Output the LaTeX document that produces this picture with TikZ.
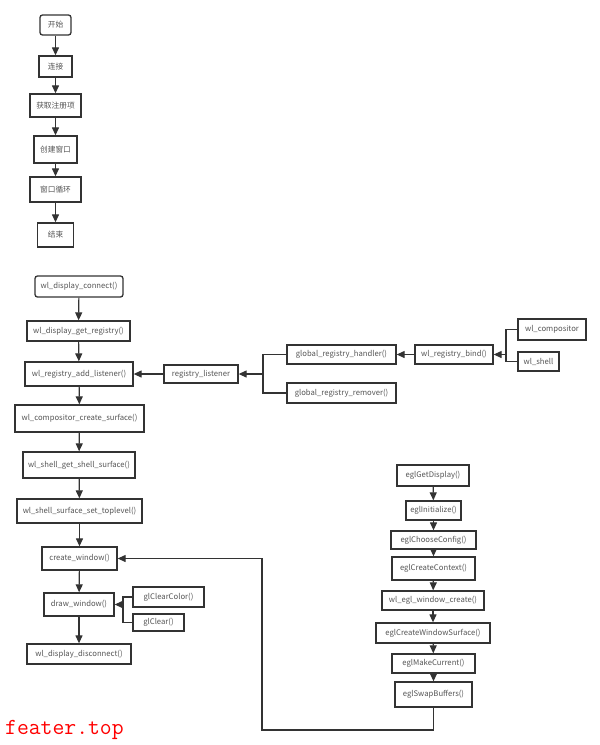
\documentclass[tikz,border=0pt]{standalone}
\usepackage{fontspec}
\setmainfont{Noto Sans CJK SC}
\usetikzlibrary{arrows.meta}
\definecolor{edgec}{HTML}{333333}
\definecolor{txtc}{HTML}{555555}
\tikzset{
  box/.style={draw=edgec, line width=1.3pt, fill=white, inner sep=0pt, text=txtc,
     font=\fontsize{7.7}{9}\selectfont},
  rbox/.style={box, rounded corners=2.5pt},
  conn/.style={draw=edgec, line width=1.2pt},
  arr/.style={conn, -{Triangle[length=8pt,width=7pt]}},
}
\begin{document}
\begin{tikzpicture}[x=1pt,y=-1pt]
\useasboundingbox (0,0) rectangle (600,745);
% top flow
\node[rbox, minimum width=31pt, minimum height=20pt] (a1) at (55.5,25) {开始};
\node[box, minimum width=33pt, minimum height=21pt] (a2) at (55.5,66.5) {连接};
\node[box, minimum width=51pt, minimum height=23pt] (a3) at (55.5,105.5) {获取注册项};
\node[box, minimum width=43pt, minimum height=27pt] (a4) at (55.5,149.5) {创建窗口};
\node[box, minimum width=51pt, minimum height=25pt] (a5) at (55.5,189.5) {窗口循环};
\node[box, minimum width=36pt, minimum height=24pt] (a6) at (55.5,235) {结束};
\foreach \p/\q in {a1/a2,a2/a3,a3/a4,a4/a5,a5/a6} \draw[arr] (\p) -- (\q);
% wayland flow
\node[rbox, minimum width=88pt, minimum height=21pt] (m1) at (79,286.5) {wl\_display\_connect()};
\node[box, minimum width=103pt, minimum height=20pt] (m2) at (78.5,331) {wl\_display\_get\_registry()};
\node[box, minimum width=108pt, minimum height=24pt] (m3) at (79,374) {wl\_registry\_add\_listener()};
\node[box, minimum width=129pt, minimum height=27pt] (m4) at (79.5,418.5) {wl\_compositor\_create\_surface()};
\node[box, minimum width=112pt, minimum height=26pt] (m5) at (79,465) {wl\_shell\_get\_shell\_surface()};
\node[box, minimum width=125pt, minimum height=24pt] (m6) at (79.5,511) {wl\_shell\_surface\_set\_toplevel()};
\node[box, minimum width=75pt, minimum height=23pt] (cw) at (79.5,558.5) {create\_window()};
\node[box, minimum width=70pt, minimum height=23pt] (dw) at (79,604.5) {draw\_window()};
\node[box, minimum width=104pt, minimum height=20pt] (dd) at (79,654) {wl\_display\_disconnect()};
\foreach \p/\q in {m1/m2,m2/m3,m3/m4,m4/m5,m5/m6,m6/cw,cw/dw,dw/dd} \draw[arr] (\p) -- (\q);
% registry
\node[box, minimum width=74pt, minimum height=18pt] (rl) at (201,374) {registry\_listener};
\node[box, minimum width=109pt, minimum height=19pt] (grh) at (341.5,354.5) {global\_registry\_handler()};
\node[box, minimum width=109pt, minimum height=20pt] (grr) at (341.5,393) {global\_registry\_remover()};
\node[box, minimum width=78pt, minimum height=19pt] (bind) at (454,354.5) {wl\_registry\_bind()};
\node[box, minimum width=68pt, minimum height=21pt] (wlc) at (552,329.5) {wl\_compositor};
\node[box, minimum width=41pt, minimum height=19pt] (wls) at (538.5,361.5) {wl\_shell};
\coordinate (f1) at (263,374);
\coordinate (f2) at (506,354.5);
\draw[conn] (grh.west) -| (f1);
\draw[conn] (grr.west) -| (f1);
\draw[arr] (f1) -- (rl.east);
\draw[arr] (rl.west) -- (m3.east);
\draw[conn] (wlc.west) -| (f2);
\draw[conn] (wls.west) -| (f2);
\draw[arr] (f2) -- (bind.east);
\draw[arr] (bind.west) -- (grh.east);
% gl
\node[box, minimum width=71pt, minimum height=20pt] (gcc) at (168.5,597) {glClearColor()};
\node[box, minimum width=51pt, minimum height=17pt] (gc) at (158.5,622.5) {glClear()};
\coordinate (f3) at (123,604.5);
\draw[conn] (gcc.west) -| (f3);
\draw[conn] (gc.west) -| (f3);
\draw[arr] (f3) -- (dw.east);
% egl
\node[box, minimum width=72pt, minimum height=21pt] (e1) at (433,475.5) {eglGetDisplay()};
\node[box, minimum width=55pt, minimum height=19pt] (e2) at (433.5,510.5) {eglInitialize()};
\node[box, minimum width=85pt, minimum height=18pt] (e3) at (433.5,540) {eglChooseConfig()};
\node[box, minimum width=83pt, minimum height=23pt] (e4) at (433.5,568.5) {eglCreateContext()};
\node[box, minimum width=102pt, minimum height=19pt] (e5) at (433,600.5) {wl\_egl\_window\_create()};
\node[box, minimum width=114pt, minimum height=20pt] (e6) at (433,633) {eglCreateWindowSurface()};
\node[box, minimum width=83pt, minimum height=19pt] (e7) at (433.5,663.5) {eglMakeCurrent()};
\node[box, minimum width=77pt, minimum height=25pt] (e8) at (433.5,694.5) {eglSwapBuffers()};
\foreach \p/\q in {e1/e2,e2/e3,e3/e4,e4/e5,e5/e6,e6/e7,e7/e8} \draw[arr] (\p) -- (\q);
\coordinate (c1) at (262,730);
\draw[arr] (e8.south) |- (c1) |- (cw.east);
% watermark
\node[anchor=base west, inner sep=0pt, text=red, font=\ttfamily\fontsize{23}{25}\selectfont] (wm) at (5,734) {feater.top};
\end{tikzpicture}
\end{document}
